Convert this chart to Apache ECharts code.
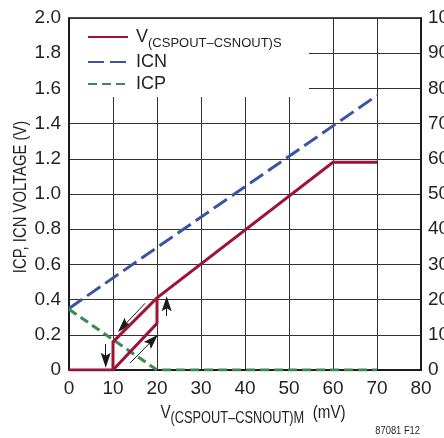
<!DOCTYPE html>
<html>
<head>
<meta charset="utf-8">
<script src="https://cdn.jsdelivr.net/npm/echarts@6/dist/echarts.min.js"></script>
<style>
html,body{margin:0;padding:0;background:#fff;}
#chart{width:444px;height:438px;}
</style>
</head>
<body>
<div id="chart"></div>
<script>
// ---- data ----
const xTicks = [0, 10, 20, 30, 40, 50, 60, 70, 80];
const leftTicks = [0, 0.2, 0.4, 0.6, 0.8, 1.0, 1.2, 1.4, 1.6, 1.8, 2.0];
const rightTicks = [0, 10, 20, 30, 40, 50, 60, 70, 80, 90, 100];
// V(CSPOUT-CSNOUT)S : main path (with falling branch) and rising branch of the hysteresis loop
const vsMainX = [0, 10, 10, 20, 60, 70];
const vsMainY = [0, 0, 0.16, 0.41, 1.18, 1.18];
const vsRiseX = [10, 20, 20];
const vsRiseY = [0, 0.265, 0.41];
const icnX = [0, 70];
const icnY = [0.35, 1.56];
const icpX = [0, 20, 70];
const icpY = [0.345, 0, 0];
// hysteresis direction arrows: [x0, y0, x1, y1] (x1,y1 = centre of arrow head)
const arrows = [
  [17.3, 0.379, 12.3, 0.247],
  [13.9, 0.04, 19.0, 0.170],
  [22.2, 0.307, 22.2, 0.377],
  [8.35, 0.148, 8.35, 0.055]
];

const FONT = "'Liberation Sans', Arial, sans-serif";
const TXT = '#231f20';
const RED = '#9c1438';
const BLUE = '#3b54a4';
const GREEN = '#3b8a4e';

function pairs(xs, ys) { return xs.map((x, i) => [x, ys[i]]); }

const chart = echarts.init(document.getElementById('chart'), null, { renderer: 'canvas' });

const vsName = 'VS';
const option = {
  animation: false,
  backgroundColor: '#fff',
  textStyle: { fontFamily: FONT, color: TXT },
  grid: { left: 69, right: 23, top: 18, bottom: 68, containLabel: false, outerBoundsMode: 'none',
    show: true, borderColor: '#111', borderWidth: 1.5, backgroundColor: 'transparent' },
  graphic: [
    { type: 'rect', z: 1, shape: { x: 70, y: 19, width: 239, height: 78 }, style: { fill: '#fff' } },
    { type: 'text', z: 5, x: 420, y: 436, scaleX: 0.85, originX: 0, originY: 0,
      style: { text: '87081 F12', font: '11px ' + FONT, fill: TXT, align: 'right', verticalAlign: 'bottom' } },
    { type: 'text', z: 5, x: 20.5, y: 197, rotation: Math.PI / 2, scaleX: 0.78,
      style: { text: 'ICP, ICN VOLTAGE (V)', font: '19px ' + FONT, fill: TXT, align: 'center', verticalAlign: 'middle' } },
    { type: 'text', z: 5, x: 253, y: 415, scaleX: 0.8,
      style: {
        text: '{v|V}{s|(CSPOUT\u2013CSNOUT)M}{v|  (mV)}', align: 'center', verticalAlign: 'middle',
        rich: {
          v: { fontFamily: FONT, fontSize: 19, fill: TXT, lineHeight: 24, verticalAlign: 'top' },
          s: { fontFamily: FONT, fontSize: 16, fill: TXT, lineHeight: 24, verticalAlign: 'bottom' }
        }
      } }
  ],
  legend: {
    orient: 'vertical',
    left: 87,
    top: 27,
    padding: 0,
    itemWidth: 40,
    itemHeight: 14,
    itemGap: 2,
    data: [vsName, 'ICN', 'ICP'],
    itemStyle: { opacity: 0, borderWidth: 0 },
    textStyle: {
      fontFamily: FONT, color: TXT, fontSize: 18, lineHeight: 20, padding: [0, 0, 0, 3],
      rich: {
        v: { fontFamily: FONT, fontSize: 18, color: TXT, lineHeight: 20, verticalAlign: 'middle' },
        s: { fontFamily: FONT, fontSize: 13, color: TXT, lineHeight: 20, verticalAlign: 'bottom', padding: [0, 0, -3, 0] }
      }
    },
    formatter: function (n) {
      if (n === vsName) return '{v|V}{s|(CSPOUT\u2013CSNOUT)S}';
      return n;
    }
  },
  xAxis: {
    type: 'value', min: 0, max: 80, interval: 10,
    axisLine: { show: true, lineStyle: { color: '#111', width: 1.5 } },
    axisTick: { show: false },
    splitLine: { show: true, lineStyle: { color: '#333', width: 1 } },
    axisLabel: { fontFamily: FONT, fontSize: 19, color: TXT, margin: 9,
      formatter: function (v) { return xTicks.indexOf(v) >= 0 ? String(v) : ''; } }
  },
  yAxis: [
    {
      type: 'value', min: 0, max: 2, interval: 0.2, position: 'left',
      axisLine: { show: true, lineStyle: { color: '#111', width: 1.5 } },
      axisTick: { show: false },
      splitLine: { show: true, lineStyle: { color: '#333', width: 1 } },
      axisLabel: { fontFamily: FONT, fontSize: 19, color: TXT, margin: 8,
        formatter: function (v) {
          const t = leftTicks.find(k => Math.abs(k - v) < 1e-9);
          if (t === undefined) return '';
          return t === 0 ? '0' : t.toFixed(1);
        } }
    },
    {
      type: 'value', min: 0, max: 100, interval: 10, position: 'right',
      axisLine: { show: true, lineStyle: { color: '#111', width: 1.5 } },
      axisTick: { show: false },
      splitLine: { show: false },
      axisLabel: { fontFamily: FONT, fontSize: 19, color: TXT, margin: 7,
        formatter: function (v) { return rightTicks.indexOf(v) >= 0 ? String(v) : ''; } }
    }
  ],
  series: [
    {
      name: vsName, type: 'line', data: pairs(vsMainX, vsMainY), showSymbol: false, symbol: 'none',
      lineStyle: { color: RED, width: 3, join: 'miter' }, itemStyle: { color: RED }, z: 5
    },
    {
      name: vsName, type: 'line', data: pairs(vsRiseX, vsRiseY), showSymbol: false, symbol: 'none',
      lineStyle: { color: RED, width: 3 }, itemStyle: { color: RED }, z: 5
    },
    {
      name: 'ICN', type: 'line', data: pairs(icnX, icnY), showSymbol: false, symbol: 'none',
      lineStyle: { color: BLUE, width: 3, type: [16, 6] }, itemStyle: { color: BLUE }, z: 3
    },
    {
      name: 'ICP', type: 'line', data: pairs(icpX, icpY), showSymbol: false, symbol: 'none',
      lineStyle: { color: GREEN, width: 3, type: [9, 5] }, itemStyle: { color: GREEN }, z: 3
    },
    {
      name: 'arrows', type: 'line', data: [], symbol: 'none', silent: true, z: 6,
      markLine: {
        silent: true, animation: false,
        symbol: ['none', 'path://M5,0 L10,16 L5,13 L0,16 Z'], symbolSize: [10, 15],
        label: { show: false },
        itemStyle: { color: '#1a1a1a' },
        lineStyle: { color: '#1a1a1a', width: 1, type: 'solid' },
        emphasis: { disabled: true },
        data: arrows.map(a => [{ coord: [a[0], a[1]] }, { coord: [a[2], a[3]] }])
      }
    }
  ]
};
chart.setOption(option);
</script>
</body>
</html>
